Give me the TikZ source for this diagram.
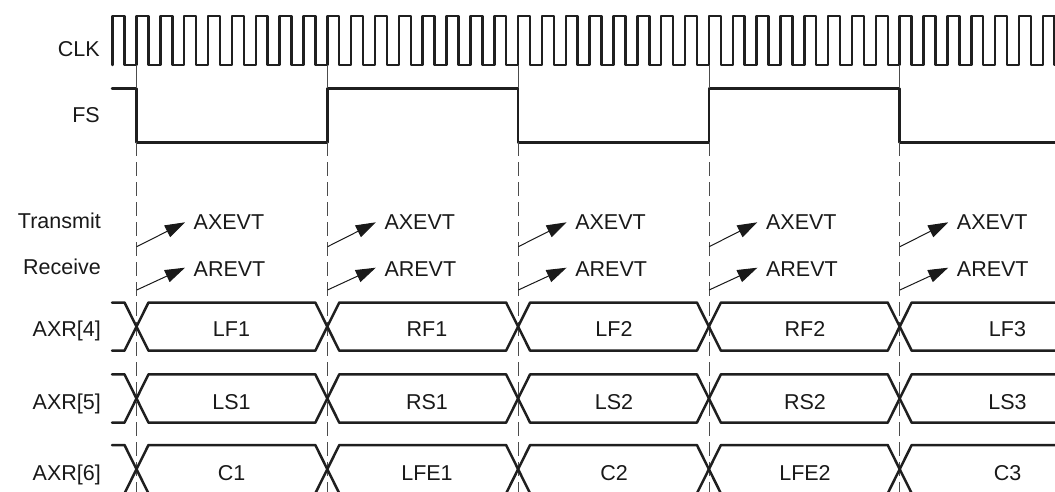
\documentclass[tikz,border=0pt]{standalone}
\usepackage{fontspec}
\setmainfont{Liberation Sans}
\usetikzlibrary{arrows.meta}
\begin{document}
\begin{tikzpicture}[x=1pt,y=-1pt,
  sig/.style={line width=2.5pt, line join=round, line cap=round, black!88},
  guide/.style={line width=0.8pt, black!70},
  guidedash/.style={guide, dash pattern=on 14pt off 6pt},
  evarrow/.style={line width=1pt, black!90, -{Triangle[length=20pt,width=13pt]}},
  lbl/.style={inner sep=0pt, anchor=base east, text=black!90, font=\fontsize{21.5}{26}\selectfont},
  evlbl/.style={inner sep=0pt, anchor=base west, text=black!90, font=\fontsize{21.5}{26}\selectfont},
  buslbl/.style={inner sep=0pt, anchor=base, text=black!90, font=\fontsize{21.5}{26}\selectfont}]
\useasboundingbox (0,0) rectangle (1055,492);
\clip (0,0) rectangle (1055,492);

% left labels
\node[lbl] (lclk) at (100,56.7) {CLK};
\node[lbl] (lfs) at (100,122.7) {FS};
\node[lbl] (ltx) at (101,228.5) {Transmit};
\node[lbl] (lrx) at (101,274.3) {Receive};
\node[lbl] (lax4) at (101,336.7) {AXR[4]};
\node[lbl] (lax5) at (101,409.3) {AXR[5]};
\node[lbl] (lax6) at (101,480) {AXR[6]};

% clock
\draw[sig] (112.65,65) \foreach \k in {0,...,40} { -- ++(0,-49) -- ++(11.925,0) -- ++(0,49) -- ++(11.925,0) };

% frame sync
\draw[sig] (112,88.3) -- (136.5,88.3) -- (136.5,142.3) -- (327.3,142.3) -- (327.3,88.3)
  -- (518.1,88.3) -- (518.1,142.3) -- (708.9,142.3) -- (708.9,88.3) -- (899.7,88.3)
  -- (899.7,142.3) -- (1060,142.3);

% guide lines, events
\foreach \e [count=\i] in {136.5,327.3,518.1,708.9,899.7} {
  \draw[guide] (\e,65) -- (\e,88.3);
  \draw[guidedash] (\e,142.3) -- (\e,500);
  \coordinate (tx\i) at (\e+0.2,246.7);
  \coordinate (txh\i) at (\e+48.5,222.3);
  \coordinate (rx\i) at (\e+0.2,290);
  \coordinate (rxh\i) at (\e+48.5,267.7);
  \draw[evarrow] (tx\i) -- (txh\i);
  \draw[evarrow] (rx\i) -- (rxh\i);
  \node[evlbl] (ax\i) at (\e+57,229.5) {AXEVT};
  \node[evlbl] (ar\i) at (\e+57,276) {AREVT};
}

% buses
\foreach \T/\B in {302.5/350.7, 374.3/422.7, 445/493.4} {
  \draw[sig] (112,\T) -- (124.5,\T) -- (148.5,\B) -- (315.3,\B) -- (339.3,\T) -- (506.1,\T)
    -- (530.1,\B) -- (696.9,\B) -- (720.9,\T) -- (887.7,\T) -- (911.7,\B) -- (1060,\B);
  \draw[sig] (112,\B) -- (124.5,\B) -- (148.5,\T) -- (315.3,\T) -- (339.3,\B) -- (506.1,\B)
    -- (530.1,\T) -- (696.9,\T) -- (720.9,\B) -- (887.7,\B) -- (911.7,\T) -- (1060,\T);
}

% bus labels
\node[buslbl] (lf1) at (231.5,336.7) {LF1};
\node[buslbl] (rf1) at (427,336.7) {RF1};
\node[buslbl] (lf2) at (614,336.7) {LF2};
\node[buslbl] (rf2) at (805,336.7) {RF2};
\node[buslbl] (lf3) at (1007.5,336.7) {LF3};
\node[buslbl] (ls1) at (231.5,409.3) {LS1};
\node[buslbl] (rs1) at (427,409.3) {RS1};
\node[buslbl] (ls2) at (614,409.3) {LS2};
\node[buslbl] (rs2) at (805,409.3) {RS2};
\node[buslbl] (ls3) at (1007.5,409.3) {LS3};
\node[buslbl] (c1) at (231.5,480) {C1};
\node[buslbl] (lfe1) at (427,480) {LFE1};
\node[buslbl] (c2) at (614,480) {C2};
\node[buslbl] (lfe2) at (805,480) {LFE2};
\node[buslbl] (c3) at (1007.5,480) {C3};
\end{tikzpicture}
\end{document}
